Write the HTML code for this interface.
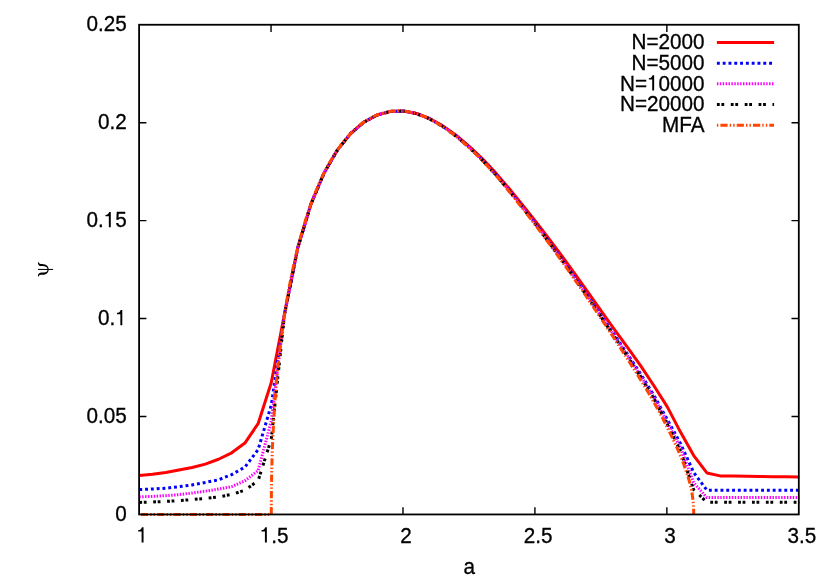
<!DOCTYPE html>
<html><head><meta charset="utf-8"><title>plot</title>
<style>html,body{margin:0;padding:0;background:#fff}svg{display:block;will-change:transform}</style></head>
<body>
<svg width="830" height="581" viewBox="0 0 830 581">
<rect width="830" height="581" fill="#fff"/>
<defs><clipPath id="c"><rect x="137.1" y="22.8" width="663.7" height="493.7"/></clipPath></defs>
<g stroke="#000" stroke-width="1.4" fill="none">
<path d="M271.04,514.45 v-7.3 M271.04,24.75 v7.3"/>
<path d="M402.98,514.45 v-7.3 M402.98,24.75 v7.3"/>
<path d="M534.92,514.45 v-7.3 M534.92,24.75 v7.3"/>
<path d="M666.86,514.45 v-7.3 M666.86,24.75 v7.3"/>
<path d="M139.10,416.51 h7.3 M798.80,416.51 h-7.3"/>
<path d="M139.10,318.57 h7.3 M798.80,318.57 h-7.3"/>
<path d="M139.10,220.63 h7.3 M798.80,220.63 h-7.3"/>
<path d="M139.10,122.69 h7.3 M798.80,122.69 h-7.3"/>
</g>
<g clip-path="url(#c)" fill="none" stroke-width="3" stroke-linejoin="round">
<path d="M139.30,475.49 L152.50,474.31 L165.70,472.55 L178.90,470.01 L192.10,467.47 L205.30,464.15 L218.50,459.26 L231.70,452.81 L244.90,443.03 L258.10,423.68 L271.30,382.43 L284.50,313.68 L297.70,248.06 L310.90,204.18 L324.10,172.93 L337.30,150.15 L350.50,133.71 L363.70,122.25 L376.90,115.11 L390.10,111.44 L403.30,111.02 L416.50,113.43 L429.70,118.49 L442.90,125.88 L456.10,135.26 L469.30,146.29 L482.50,158.85 L495.70,172.86 L508.90,188.20 L522.10,204.35 L535.30,221.02 L548.50,238.11 L561.70,255.76 L574.90,273.78 L588.10,292.29 L601.30,311.03 L614.50,329.51 L627.70,347.57 L640.90,366.16 L654.10,386.02 L667.30,406.87 L680.50,432.09 L693.70,455.55 L706.90,472.94 L720.10,475.88 L733.30,476.07 L746.50,476.27 L759.70,476.46 L772.90,476.66 L786.10,476.86 L799.30,477.05" stroke="#ff0000"/>
<path d="M139.30,489.60 L152.50,489.00 L165.70,488.19 L178.90,486.71 L192.10,484.91 L205.30,482.41 L218.50,479.79 L231.70,474.61 L244.90,467.08 L258.10,449.68 L271.30,404.91 L284.50,314.25 L297.70,248.06 L310.90,204.18 L324.10,172.93 L337.30,150.15 L350.50,133.71 L363.70,122.25 L376.90,115.11 L390.10,111.44 L403.30,111.02 L416.50,113.60 L429.70,118.83 L442.90,126.40 L456.10,135.94 L469.30,147.20 L482.50,159.98 L495.70,174.27 L508.90,189.90 L522.10,206.33 L535.30,223.29 L548.50,240.78 L561.70,258.83 L574.90,277.30 L588.10,296.26 L601.30,315.57 L614.50,334.95 L627.70,354.38 L640.90,374.33 L654.10,395.66 L667.30,419.57 L680.50,443.42 L693.70,472.55 L706.90,490.15 L720.10,490.15 L733.30,490.15 L746.50,490.15 L759.70,490.15 L772.90,490.15 L786.10,490.15 L799.30,490.15" stroke="#0000ff" stroke-dasharray="2.9 2.9"/>
<path d="M139.30,496.89 L152.50,496.40 L165.70,495.70 L178.90,494.61 L192.10,493.00 L205.30,491.20 L218.50,488.98 L231.70,486.63 L244.90,480.76 L258.10,470.60 L271.30,420.94 L284.50,314.37 L297.70,248.06 L310.90,204.18 L324.10,172.93 L337.30,150.15 L350.50,133.71 L363.70,122.25 L376.90,115.11 L390.10,111.44 L403.30,111.02 L416.50,113.64 L429.70,118.90 L442.90,126.50 L456.10,136.08 L469.30,147.38 L482.50,160.22 L495.70,174.57 L508.90,190.25 L522.10,206.74 L535.30,223.76 L548.50,241.33 L561.70,259.46 L574.90,278.02 L588.10,297.08 L601.30,316.51 L614.50,336.08 L627.70,355.78 L640.90,376.02 L654.10,397.65 L667.30,422.31 L680.50,447.53 L693.70,482.72 L706.90,497.58 L720.10,497.58 L733.30,497.58 L746.50,497.58 L759.70,497.58 L772.90,497.58 L786.10,497.58 L799.30,497.58" stroke="#ff00ff" stroke-dasharray="1.45 1.45"/>
<path d="M139.30,502.41 L152.50,502.00 L165.70,501.39 L178.90,500.61 L192.10,499.59 L205.30,498.40 L218.50,496.89 L231.70,494.45 L244.90,490.15 L258.10,480.76 L271.30,438.93 L284.50,314.46 L297.70,248.06 L310.90,204.18 L324.10,172.93 L337.30,150.15 L350.50,133.71 L363.70,122.25 L376.90,115.11 L390.10,111.44 L403.30,111.02 L416.50,113.66 L429.70,118.96 L442.90,126.59 L456.10,136.20 L469.30,147.54 L482.50,160.41 L495.70,174.81 L508.90,190.54 L522.10,207.09 L535.30,224.15 L548.50,241.79 L561.70,259.99 L574.90,278.63 L588.10,297.77 L601.30,317.29 L614.50,337.02 L627.70,356.96 L640.90,377.43 L654.10,399.31 L667.30,424.27 L680.50,451.24 L693.70,489.76 L706.90,502.27 L720.10,502.27 L733.30,502.27 L746.50,502.27 L759.70,502.27 L772.90,502.27 L786.10,502.27 L799.30,502.27" stroke="#000" stroke-dasharray="2.8 1.7 2.8 6.6"/>
<path d="M139.30,514.45 L271.30,514.45 L271.30,514.45 L271.32,503.75 L271.38,494.25 L271.49,485.19 L271.63,476.39 L271.82,467.79 L272.05,459.34 L272.32,451.03 L272.63,442.83 L272.99,434.72 L273.38,426.72 L273.82,418.80 L274.30,410.96 L274.82,403.20 L275.38,395.52 L275.99,387.91 L276.63,380.37 L277.32,372.91 L278.05,365.52 L278.82,358.20 L279.63,350.96 L280.49,343.79 L281.38,336.69 L282.32,329.67 L283.30,322.72 L284.32,315.85 L285.38,309.06 L286.48,302.34 L287.63,295.71 L288.82,289.15 L290.05,282.68 L291.32,276.30 L292.63,270.00 L293.98,263.79 L295.38,257.67 L296.81,251.64 L298.29,245.71 L299.81,239.88 L301.38,234.16 L302.98,228.55 L304.30,224.11 L307.29,214.63 L310.29,205.88 L313.28,197.77 L316.28,190.24 L319.27,183.24 L322.27,176.71 L325.26,170.61 L328.26,164.94 L331.25,159.67 L334.25,154.78 L337.24,150.23 L340.24,146.00 L343.23,142.08 L346.23,138.44 L349.22,135.07 L352.22,131.95 L355.21,129.08 L358.21,126.46 L361.20,124.07 L364.20,121.91 L367.19,119.97 L370.19,118.24 L373.18,116.72 L376.18,115.40 L379.17,114.26 L382.17,113.28 L385.16,112.45 L388.16,111.79 L391.15,111.29 L394.15,110.95 L397.14,110.79 L400.14,110.81 L403.13,111.00 L406.13,111.36 L409.12,111.87 L412.12,112.52 L415.11,113.31 L418.11,114.24 L421.10,115.30 L424.10,116.49 L427.09,117.82 L430.09,119.27 L433.08,120.84 L436.08,122.53 L439.07,124.32 L442.07,126.22 L445.06,128.22 L448.06,130.32 L451.05,132.52 L454.05,134.81 L457.04,137.19 L460.04,139.67 L463.03,142.23 L466.03,144.87 L469.02,147.60 L472.02,150.40 L475.01,153.28 L478.01,156.24 L481.00,159.26 L484.00,162.36 L486.99,165.55 L489.99,168.83 L492.98,172.19 L495.98,175.62 L498.97,179.12 L501.97,182.68 L504.96,186.30 L507.96,189.97 L510.95,193.68 L513.95,197.42 L516.94,201.20 L519.94,205.01 L522.93,208.84 L525.93,212.69 L528.92,216.57 L531.92,220.48 L534.91,224.42 L537.91,228.39 L540.90,232.39 L543.90,236.43 L546.89,240.50 L549.89,244.61 L552.88,248.74 L555.88,252.90 L558.87,257.08 L561.87,261.28 L564.86,265.50 L567.86,269.75 L570.85,274.03 L573.85,278.32 L576.84,282.65 L579.84,287.00 L582.83,291.37 L585.83,295.77 L588.82,300.20 L591.82,304.65 L594.81,309.12 L597.81,313.60 L600.80,318.10 L603.80,322.62 L606.79,327.15 L609.79,331.70 L612.78,336.26 L615.78,340.85 L618.77,345.45 L621.77,350.07 L624.76,354.72 L627.76,359.39 L630.75,364.08 L633.75,368.81 L636.74,373.57 L639.74,378.36 L642.72,383.20 L645.67,388.09 L648.59,393.03 L651.49,398.04 L654.37,403.12 L657.26,408.29 L660.15,413.56 L661.42,415.92 L662.95,418.83 L664.43,421.70 L665.87,424.54 L667.28,427.34 L668.65,430.12 L670.00,432.86 L671.31,435.58 L672.60,438.26 L673.85,440.93 L675.09,443.56 L676.28,446.17 L677.44,448.76 L678.56,451.32 L679.64,453.86 L680.68,456.39 L681.69,458.89 L682.65,461.38 L683.57,463.84 L684.45,466.30 L685.30,468.74 L686.13,471.16 L686.95,473.57 L687.73,475.98 L688.48,478.37 L689.18,480.76 L689.83,483.13 L690.43,485.51 L690.98,487.88 L691.48,490.24 L691.92,492.61 L692.31,494.98 L692.64,497.35 L692.93,499.72 L693.17,502.11 L693.36,504.51 L693.51,506.93 L693.62,509.37 L693.68,511.86 L693.70,514.45" stroke="#ff4500" stroke-dasharray="7.2 2.1 1.4 2.1 1.4 2.1" stroke-dashoffset="14.7"/>
</g>
<g fill="none" stroke-width="3">
<path d="M716.9,42.4 H774.1" stroke="#ff0000"/>
<path d="M716.9,63.3 H774.1" stroke="#0000ff" stroke-dasharray="2.9 2.9"/>
<path d="M716.9,83.8 H774.1" stroke="#ff00ff" stroke-dasharray="1.45 1.45"/>
<path d="M716.9,104.5 H774.1" stroke="#000" stroke-dasharray="2.8 1.7 2.8 6.6"/>
<path d="M716.9,125.2 H774.1" stroke="#ff4500" stroke-dasharray="7.2 2.1 1.4 2.1 1.4 2.1" stroke-dashoffset="12.8"/>
</g>
<rect x="139.10" y="24.75" width="659.70" height="489.70" fill="none" stroke="#000" stroke-width="1.8"/>
<g font-family="'Liberation Sans', sans-serif" font-size="20.7px" fill="#000" stroke="#000" stroke-width="0.3">
<text transform="translate(126.70,521.15) scale(1,1.04)" text-anchor="end">0</text>
<text transform="translate(126.70,423.21) scale(1,1.04)" text-anchor="end">0.05</text>
<text transform="translate(126.70,129.39) scale(1,1.04)" text-anchor="end">0.2</text>
<text transform="translate(126.70,31.45) scale(1,1.04)" text-anchor="end">0.25</text>
<text transform="translate(115.19,325.27) scale(1,1.04)" text-anchor="end">0.</text>
<path transform="translate(115.19,325.27)" d="M5.17,-15.35 L7.1,-15.35 L7.1,0 L5.17,0 L5.17,-11.08 L1.8,-11.08 L1.8,-12.43 C3.7,-12.5 4.9,-13.3 5.5,-15.35 Z" stroke="none"/>
<text transform="translate(103.68,227.33) scale(1,1.04)" text-anchor="end">0.</text>
<path transform="translate(103.68,227.33)" d="M5.17,-15.35 L7.1,-15.35 L7.1,0 L5.17,0 L5.17,-11.08 L1.8,-11.08 L1.8,-12.43 C3.7,-12.5 4.9,-13.3 5.5,-15.35 Z" stroke="none"/>
<text transform="translate(115.19,227.33) scale(1,1.04)" text-anchor="start">5</text>
<text transform="translate(406.08,542.50) scale(1,1.04)" text-anchor="middle">2</text>
<text transform="translate(538.02,542.50) scale(1,1.04)" text-anchor="middle">2.5</text>
<text transform="translate(669.96,542.50) scale(1,1.04)" text-anchor="middle">3</text>
<text transform="translate(801.90,542.50) scale(1,1.04)" text-anchor="middle">3.5</text>
<path transform="translate(136.44,542.50)" d="M5.17,-15.35 L7.1,-15.35 L7.1,0 L5.17,0 L5.17,-11.08 L1.8,-11.08 L1.8,-12.43 C3.7,-12.5 4.9,-13.3 5.5,-15.35 Z" stroke="none"/>
<path transform="translate(259.75,542.50)" d="M5.17,-15.35 L7.1,-15.35 L7.1,0 L5.17,0 L5.17,-11.08 L1.8,-11.08 L1.8,-12.43 C3.7,-12.5 4.9,-13.3 5.5,-15.35 Z" stroke="none"/>
<text transform="translate(271.26,542.50) scale(1,1.04)" text-anchor="start">.5</text>
<text transform="translate(469.20,573.50) scale(1,1.04)" text-anchor="middle">a</text>
<text transform="translate(704.60,49.20) scale(1,1.04)" text-anchor="end">N=2000</text>
<text transform="translate(704.60,70.10) scale(1,1.04)" text-anchor="end">N=5000</text>
<text transform="translate(704.60,111.30) scale(1,1.04)" text-anchor="end">N=20000</text>
<text transform="translate(704.60,132.00) scale(1,1.04)" text-anchor="end">MFA</text>
<text transform="translate(658.55,90.60) scale(1,1.04)" text-anchor="start">0000</text>
<path transform="translate(647.04,90.60)" d="M5.17,-15.35 L7.1,-15.35 L7.1,0 L5.17,0 L5.17,-11.08 L1.8,-11.08 L1.8,-12.43 C3.7,-12.5 4.9,-13.3 5.5,-15.35 Z" stroke="none"/>
<text transform="translate(647.04,90.60) scale(1,1.04)" text-anchor="end">N=</text>
</g>
<g transform="translate(30,255) scale(0.048239)" fill="#000"><path d="M178,146 C182,170 195,184 225,187 C265,190 300,188 335,205 C365,222 385,255 388,299 L366,299 C362,268 345,245 315,238 C285,231 250,236 215,230 C180,222 160,195 166,150 Z"/><path d="M178,452 C182,428 195,414 225,411 C265,408 300,410 335,393 C365,376 385,343 388,299 L366,299 C362,330 345,353 315,360 C285,367 250,362 215,368 C180,376 160,403 166,448 Z"/><rect x="165" y="288.5" width="313" height="21"/></g>
</svg>
</body></html>
